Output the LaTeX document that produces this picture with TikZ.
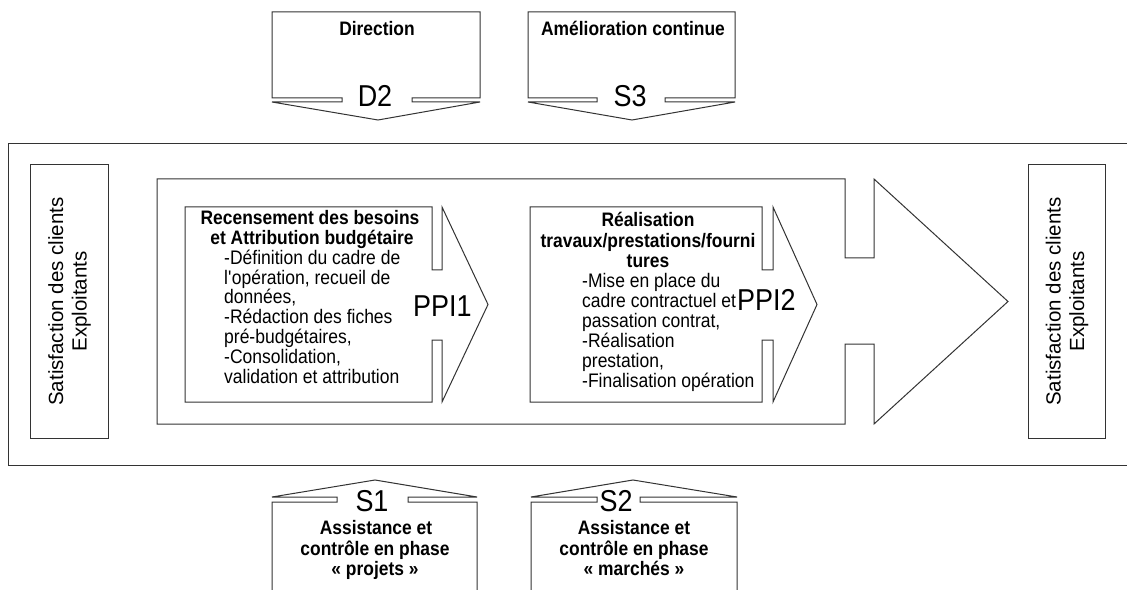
\documentclass[tikz,border=0pt]{standalone}
\usepackage{fontspec}
\setmainfont{Liberation Sans}
\newfontfamily\tallfont{Liberation Sans}[FakeStretch=0.893]
\begin{document}
\begin{tikzpicture}[x=1bp,y=-1bp,
  ln/.style={draw=black!80, line width=1bp, line join=miter},
  shp/.style={ln, fill=white},
  bt/.style={font=\tallfont\fontsize{19.5bp}{19.75bp}\selectfont\bfseries, inner sep=0pt, anchor=base},
  rt/.style={font=\tallfont\fontsize{19.6bp}{19.75bp}\selectfont, inner sep=0pt, anchor=base west},
  bigt/.style={font=\tallfont\fontsize{30.2bp}{30bp}\selectfont, inner sep=0pt, anchor=base},
  sat/.style={ln, font=\fontsize{20.5bp}{23.5bp}\selectfont, align=center, rotate=90, inner sep=0pt,
              minimum width=273bp, minimum height=77bp}]
\useasboundingbox (0,0) rectangle (1127,590);
\clip (0,0) rectangle (1127,590);

% outer frame
\draw[ln] (8,144) rectangle (1140,465);

% side boxes
\node[sat] (satL) at (69.5,301.5) {Satisfaction des clients\\Exploitants};
\node[sat] (satR) at (1067,301.5) {Satisfaction des clients\\Exploitants};

% big arrow
\draw[shp] (157,179) -- (845,179) -- (845,258) -- (874,258) -- (874,179) -- (1008,301.5)
  -- (874,424) -- (874,344) -- (845,344) -- (845,424) -- (157,424) -- cycle;

% PPI1 arrow
\draw[shp] (185,207) -- (432,207) -- (432,270) -- (442,270) -- (442,207) -- (488,304.5)
  -- (442,402) -- (442,340) -- (432,340) -- (432,402) -- (185,402) -- cycle;
% PPI2 arrow
\draw[shp] (530,207) -- (762,207) -- (762,270) -- (773,270) -- (773,207) -- (817,304.5)
  -- (773,402) -- (773,340) -- (762,340) -- (762,402) -- (530,402) -- cycle;

% top callouts
\draw[shp] (272,98) -- (272,12) -- (480,12) -- (480,98) -- (412,98) -- (412,102) -- (480,102)
  -- (378,120) -- (272,102) -- (342,102) -- (342,98) -- cycle;
\draw[shp] (528,98) -- (528,12) -- (735,12) -- (735,98) -- (665,98) -- (665,102) -- (735,102)
  -- (632,120) -- (528,102) -- (597,102) -- (597,98) -- cycle;
\node[bt] (dir) at (377,36) {Direction};
\node[bt] (amel) at (633,36) {Amélioration continue};
\node[bigt] (d2) at (375,107) {D2};
\node[bigt] (s3) at (630,107) {S3};

% bottom callouts
\draw[ln] (272,600) -- (272,502) -- (337,502) -- (337,497) -- (272,497) -- (375,480) -- (477,497)
  -- (408,497) -- (408,502) -- (477,502) -- (477,600);
\draw[ln] (531,600) -- (531,502) -- (597,502) -- (597,497) -- (531,497) -- (633,480) -- (737,497)
  -- (640,497) -- (640,502) -- (737,502) -- (737,600);
\node[bigt] (s1) at (372,511) {S1};
\node[bigt] (s2) at (616,511) {S2};
\node[bt] (a1) at (376,534) {Assistance et};
\node[bt] (b1) at (375,555) {contrôle en phase};
\node[bt] (c1) at (375,575) {« projets »};
\node[bt] (a2) at (634,534) {Assistance et};
\node[bt] (b2) at (634,555) {contrôle en phase};
\node[bt] (c2) at (634,575) {« marchés »};

% PPI1 texts
\node[bt] (p1a) at (310,225) {Recensement des besoins};
\node[bt] (p1b) at (312,244.75) {et Attribution budgétaire};
\node[rt] (p1c) at (224,264.5) {-Définition du cadre de};
\node[rt] (p1d) at (224,284.25) {l\textquotesingle opération, recueil de};
\node[rt] (p1e) at (224,304) {données,};
\node[rt] (p1f) at (224,323.75) {-Rédaction des fiches};
\node[rt] (p1g) at (224,343.5) {pré-budgétaires,};
\node[rt] (p1h) at (224,363.25) {-Consolidation,};
\node[rt] (p1i) at (224,383) {validation et attribution};
\node[bigt, anchor=base west] (ppi1) at (413,317) {PPI1};

% PPI2 texts
\node[bt] (p2a) at (648,227) {Réalisation};
\node[bt] (p2b) at (648,247.1) {travaux/prestations/fourni};
\node[bt] (p2c) at (648,267.2) {tures};
\node[rt] (p2d) at (582,287.3) {-Mise en place du};
\node[rt] (p2e) at (582,307.4) {cadre contractuel et};
\node[rt] (p2f) at (582,327.5) {passation contrat,};
\node[rt] (p2g) at (582,347.6) {-Réalisation};
\node[rt] (p2h) at (582,367.7) {prestation,};
\node[rt] (p2i) at (582,387.8) {-Finalisation opération};
\node[bigt, anchor=base west] (ppi2) at (737,311) {PPI2};
\end{tikzpicture}
\end{document}
